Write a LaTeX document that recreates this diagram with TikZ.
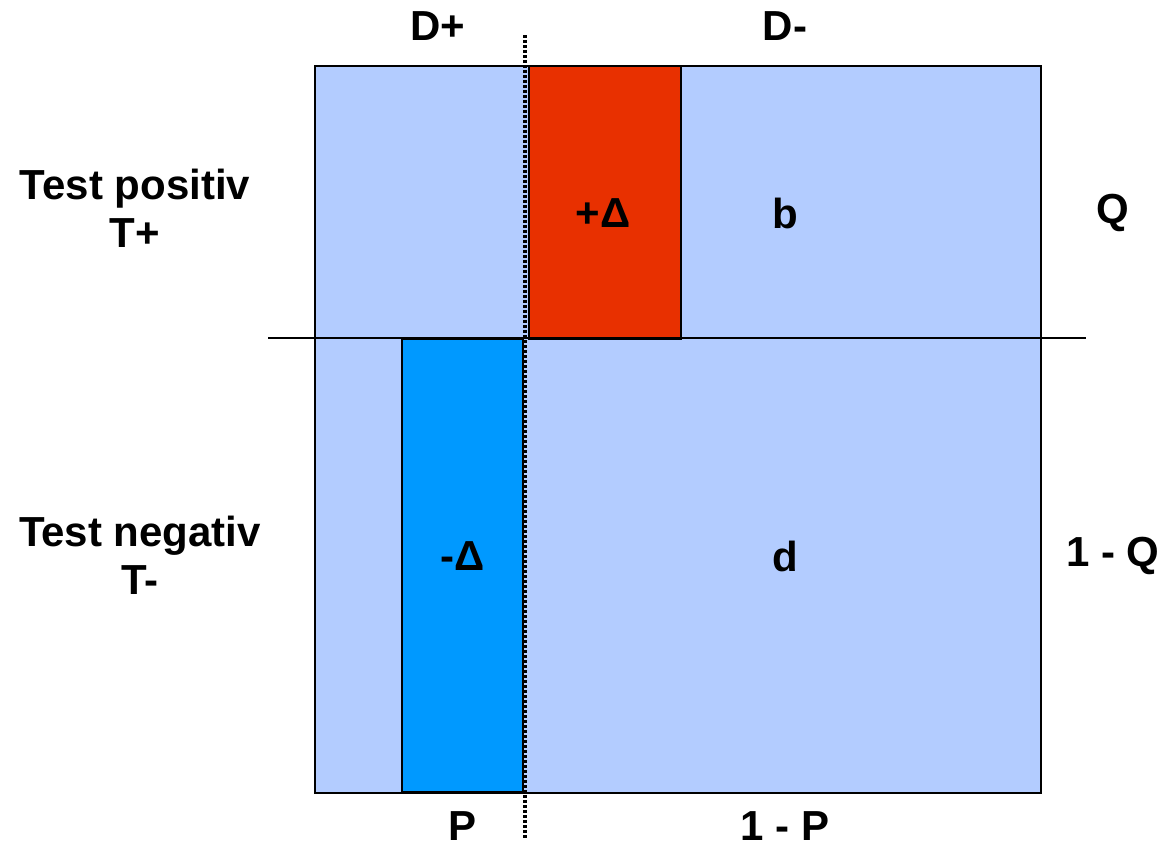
\documentclass[tikz,border=0pt]{standalone}
\usepackage{fontspec}
\setmainfont{Liberation Sans}
\definecolor{lightcell}{HTML}{B3CCFF}
\definecolor{redcell}{HTML}{E83000}
\definecolor{bluecell}{HTML}{0099FF}
\begin{document}
\begin{tikzpicture}[x=1pt,y=-1pt,
  lbl/.style={font=\fontsize{42}{48}\selectfont\bfseries, inner sep=0pt, align=center},
  cell/.style={draw=black, line width=2pt, inner sep=0pt, anchor=north west}]
\useasboundingbox (0,0) rectangle (1169,846);
% main square
\node[cell, fill=lightcell, minimum width=726pt, minimum height=727pt] (main) at (314,65) {};
% red cell
\node[cell, fill=redcell, minimum width=152pt, minimum height=273pt] (red) at (528,65) {};
% blue cell
\node[cell, fill=bluecell, minimum width=121pt, minimum height=453pt] (blue) at (401,338) {};
% horizontal divider
\coordinate (hl) at (268,338);
\coordinate (hr) at (1086,338);
\draw[line width=2pt] (hl) -- (hr);
% dotted vertical divider
\coordinate (vt) at (525,35);
\coordinate (vb) at (525,838);
\draw[line width=3.5pt, dash pattern=on 3pt off 2pt] (vt) -- (vb);
% labels
\node[lbl] (dp) at (438,26) {D+};
\node[lbl] (dm) at (785,26) {D-};
\node[lbl] (tp) at (135,208) {Test positiv\\T+};
\node[lbl] (tn) at (140,555) {Test negativ\\T-};
\node[lbl] (pd) at (603,213) {+Δ};
\node[lbl] (b) at (785,213) {b};
\node[lbl] (q) at (1113,213) {Q};
\node[lbl] (md) at (463,556) {-Δ};
\node[lbl] (d) at (785,556) {d};
\node[lbl] (oq) at (1113,556) {1 - Q};
\node[lbl] (p) at (463,826) {P};
\node[lbl] (op) at (785,826) {1 - P};
\end{tikzpicture}
\end{document}
